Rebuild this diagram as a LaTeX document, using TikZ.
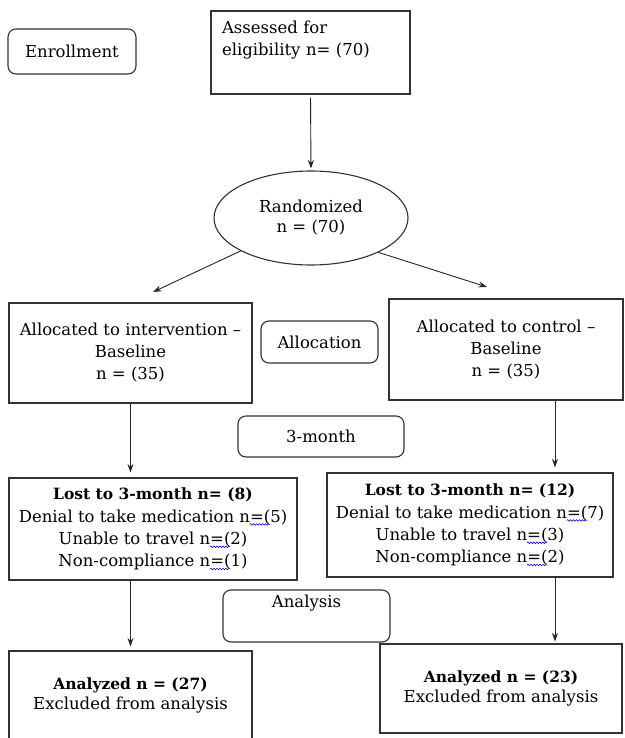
\documentclass[tikz,border=0pt]{standalone}
\usepackage{fontspec}
\setmainfont{DejaVu Serif}
\usetikzlibrary{shapes.geometric,arrows.meta,decorations.pathmorphing}
\newsavebox\sqbox
\newcommand\squig[1]{\sbox\sqbox{#1}\usebox\sqbox\llap{\raisebox{-3.5pt}[0pt][0pt]{\tikz[x=1pt,y=1pt]\draw[blue!80!black,line width=0.55pt,decorate,decoration={snake,amplitude=0.8pt,segment length=3pt}] (0,0) -- (\wd\sqbox,0);}}}
\newcommand\bsize{\fontsize{15.5}{22}\selectfont}
\begin{document}
\begin{tikzpicture}[x=1pt,y=-1pt,
  box/.style={draw=black!80, line width=1.1pt, align=center, inner sep=0pt},
  rbox/.style={box, rounded corners=8pt},
  arr/.style={-{Stealth[length=8.5pt,width=6pt]}, line width=0.9pt, draw=black!85},
  font=\fontsize{16.5}{22}\selectfont]
\useasboundingbox (0,0) rectangle (624,738);
\fill[white] (0,0) rectangle (624,738);

\node[rbox, minimum width=128pt, minimum height=45pt] (enroll) at (72,51.5) {Enrollment};
\node[box, minimum width=199pt, minimum height=83pt, text width=177pt, align=left] (assess) at (310.5,52.5) {Assessed for\\eligibility n= (70)\\\strut};
\node[ellipse, draw=black!80, line width=1.1pt, minimum width=194pt, minimum height=94pt, inner sep=0pt, align=center, font=\fontsize{16.5}{20}\selectfont] (rand) at (311,218) {Randomized\\n = (70)};

\node[box, minimum width=243pt, minimum height=100pt] (intv) at (130.5,353) {Allocated to intervention –\\Baseline\\n = (35)};
\node[rbox, minimum width=117pt, minimum height=42pt] (alloc) at (319.5,342) {Allocation};
\node[box, minimum width=234pt, minimum height=101pt] (ctrl) at (506,349.5) {Allocated to control –\\Baseline\\n = (35)};
\node[rbox, minimum width=166pt, minimum height=41pt] (three) at (321,436.5) {3-month};

\node[box, minimum width=288pt, minimum height=102pt, font=\fontsize{16.5}{22.3}\selectfont] (lostL) at (153,529) {{\bsize\textbf{Lost to 3-month n= (8)}}\\Denial to take medication n\squig{=(}5)\\Unable to travel n\squig{=(}2)\\Non-compliance n\squig{=(}1)};
\node[box, minimum width=286pt, minimum height=104pt, font=\fontsize{16.5}{22.3}\selectfont] (lostR) at (470,525) {{\bsize\textbf{Lost to 3-month n= (12)}}\\Denial to take medication n\squig{=(}7)\\Unable to travel n\squig{=(}3)\\Non-compliance n\squig{=(}2)};
\node[rbox, minimum width=167pt, minimum height=52pt] (anal) at (306.5,616) {Analysis\\\strut};

\node[box, minimum width=243pt, minimum height=88pt, font=\fontsize{16.5}{20}\selectfont] (anaL) at (130.5,695) {{\bsize\textbf{Analyzed n = (27)}}\\Excluded from analysis};
\node[box, minimum width=242pt, minimum height=89pt, font=\fontsize{16.5}{20}\selectfont] (anaR) at (501,688.5) {{\bsize\textbf{Analyzed n = (23)}}\\Excluded from analysis};

\coordinate (tipL) at (153,292);
\coordinate (tipR) at (487,287);
\coordinate (rx) at (555,0);

\draw[arr, shorten <=3pt, shorten >=2pt] (assess.south) -- (rand.north);
\draw[arr] (rand) -- (tipL);
\draw[arr] (rand.-27) -- (tipR);
\draw[arr, shorten >=5pt] (intv.south) -- (intv.south |- lostL.north);
\draw[arr, shorten >=4pt] (anaL.north |- lostL.south) -- (anaL.north);
\draw[arr, shorten >=5pt] (ctrl.south -| rx) -- (lostR.north -| rx);
\draw[arr, shorten >=2pt] (lostR.south -| rx) -- (anaR.north -| rx);
\end{tikzpicture}
\end{document}
